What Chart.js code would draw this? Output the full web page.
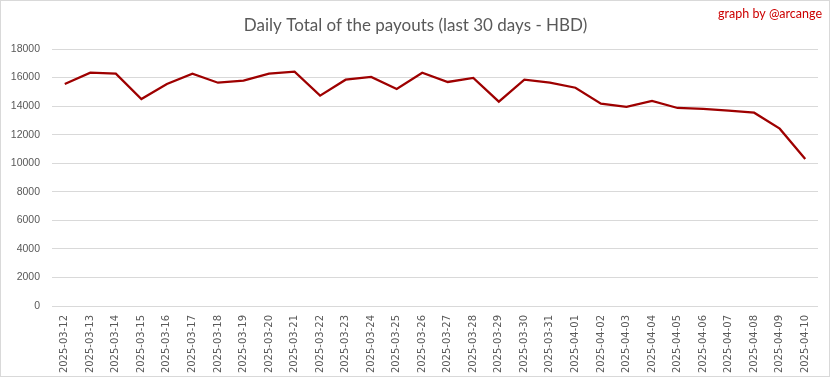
<!DOCTYPE html>
<html>
<head>
<meta charset="utf-8">
<script src="https://cdn.jsdelivr.net/npm/chart.js@4/dist/chart.umd.min.js"></script>
<style>
  html, body { margin: 0; padding: 0; background: #ffffff; }
  #wrap { width: 833px; height: 379px; position: relative; }
</style>
</head>
<body>
<div id="wrap"><canvas id="c" width="833" height="379"></canvas></div>
<script>
const categories = [
  "2025-03-12","2025-03-13","2025-03-14","2025-03-15","2025-03-16","2025-03-17",
  "2025-03-18","2025-03-19","2025-03-20","2025-03-21","2025-03-22","2025-03-23",
  "2025-03-24","2025-03-25","2025-03-26","2025-03-27","2025-03-28","2025-03-29",
  "2025-03-30","2025-03-31","2025-04-01","2025-04-02","2025-04-03","2025-04-04",
  "2025-04-05","2025-04-06","2025-04-07","2025-04-08","2025-04-09","2025-04-10"
];
const payoutsHBD = [
  15550, 16340, 16270, 14500, 15550, 16270,
  15640, 15780, 16270, 16410, 14730, 15850,
  16040, 15200, 16340, 15690, 15970, 14310,
  15850, 15640, 15290, 14170, 13940, 14360,
  13870, 13800, 13680, 13540, 12420, 10300
];
const yTicks = [0, 2000, 4000, 6000, 8000, 10000, 12000, 14000, 16000, 18000];
const titleText = "Daily Total of the payouts (last 30 days - HBD)";
const creditText = "graph by @arcange";

const decorPlugin = {
  id: 'decor',
  beforeDraw(chart) {
    const ctx = chart.ctx;
    ctx.save();
    ctx.fillStyle = '#ffffff';
    ctx.fillRect(0, 0, chart.width, chart.height);
    ctx.restore();
  },
  afterDraw(chart) {
    const ctx = chart.ctx;
    ctx.save();
    ctx.strokeStyle = '#d9d9d9';
    ctx.lineWidth = 1;
    ctx.strokeRect(0.5, 0.5, 829, 376);
    ctx.fillStyle = '#595959';
    ctx.font = '17px Lato';
    ctx.textAlign = 'center';
    ctx.textBaseline = 'alphabetic';
    ctx.fillText(titleText, 415.5, 31);
    ctx.fillStyle = '#cc0000';
    ctx.font = '12.5px Lato';
    ctx.textAlign = 'right';
    ctx.fillText(creditText, 822, 18);
    ctx.restore();
  }
};

new Chart(document.getElementById('c'), {
  type: 'line',
  data: {
    labels: categories,
    datasets: [{
      label: 'HBD',
      data: payoutsHBD,
      borderColor: '#9e0000',
      backgroundColor: '#9e0000',
      borderWidth: 2.25,
      pointRadius: 0,
      tension: 0,
      fill: false
    }]
  },
  options: {
    responsive: false,
    animation: false,
    devicePixelRatio: 1,
    layout: { padding: { top: 49, right: 15, bottom: 0, left: 0 } },
    plugins: {
      legend: { display: false },
      title: { display: false },
      tooltip: { enabled: false }
    },
    scales: {
      x: {
        type: 'category',
        offset: true,
        grid: { display: false, drawTicks: false },
        border: { display: false },
        ticks: {
          minRotation: 90,
          maxRotation: 90,
          autoSkip: false,
          padding: 9,
          color: '#595959',
          font: { family: 'DejaVu Sans', size: 10 }
        },
        afterFit(scale) { scale.height = 73; }
      },
      y: {
        min: 0,
        max: 18000,
        afterBuildTicks(scale) { scale.ticks = yTicks.map(v => ({ value: v })); },
        grid: { color: '#d9d9d9', lineWidth: 1, drawTicks: false },
        border: { display: false },
        ticks: {
          padding: 12,
          color: '#595959',
          font: { family: 'Liberation Sans', size: 10.5 },
          callback: (v) => String(v)
        },
        afterFit(scale) { scale.width = 52; }
      }
    }
  },
  plugins: [decorPlugin]
});
</script>
</body>
</html>
